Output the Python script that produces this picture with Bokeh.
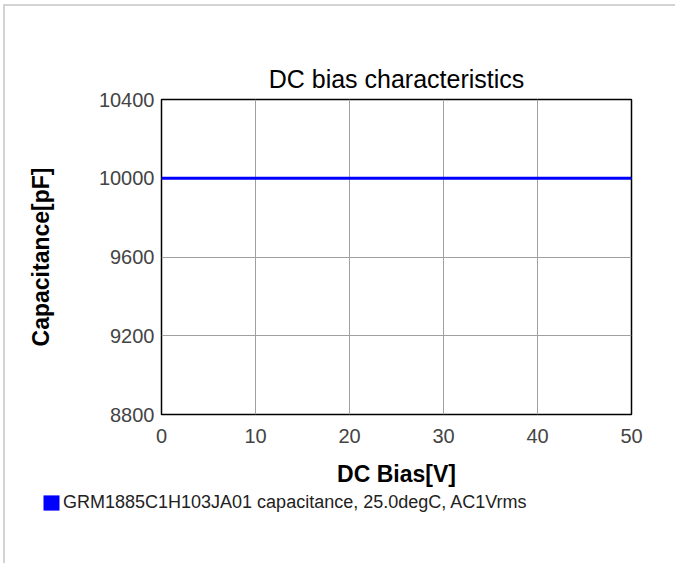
from bokeh.plotting import figure
from bokeh.models import Range1d, FixedTicker, Legend, LegendItem
from bokeh.embed import file_html
from bokeh.resources import INLINE

dc_bias = [0, 5, 10, 15, 20, 25, 30, 35, 40, 45, 50]
capacitance = [10000, 10000, 10000, 10000, 10000, 10000, 10000, 10000, 10000, 10000, 10000]
x_ticks = [0, 10, 20, 30, 40, 50]
y_ticks = [8800, 9200, 9600, 10000, 10400]
series_label = "GRM1885C1H103JA01 capacitance, 25.0degC, AC1Vrms"

FONT = "Liberation Sans"

p = figure(width=670, height=484, output_backend="svg", toolbar_location=None,
           x_range=Range1d(0, 50), y_range=Range1d(8800, 10400),
           min_border_left=156, min_border_right=44, min_border_top=93, min_border_bottom=76,
           title="DC bias characteristics")
p.frame_width = 470
p.frame_height = 315
p.styles = {"margin-left": "3px", "margin-top": "4px",
            "border-top": "2px solid #d4d4d4", "border-left": "2px solid #d4d4d4"}

p.title.text_font = FONT
p.title.text_font_size = "25px"
p.title.text_font_style = "normal"
p.title.text_color = "#000000"
p.title.align = "center"
p.title.standoff = 13

p.outline_line_color = "#000000"
p.outline_line_width = 1.5

for ax in (p.xaxis[0], p.yaxis[0]):
    ax.axis_line_color = None
    ax.major_tick_line_color = None
    ax.minor_tick_line_color = None
    ax.major_label_text_font = FONT
    ax.major_label_text_font_size = "20px"
    ax.major_label_text_color = "#444444"
    ax.axis_label_text_font = FONT
    ax.axis_label_text_font_size = "23px"
    ax.axis_label_text_font_style = "bold"
    ax.axis_label_text_color = "#000000"

p.xaxis.ticker = FixedTicker(ticks=x_ticks)
p.yaxis.ticker = FixedTicker(ticks=y_ticks)
p.xaxis.axis_label = "DC Bias[V]"
p.yaxis.axis_label = "Capacitance[pF]"
p.xaxis.major_label_standoff = 8
p.yaxis.major_label_standoff = 1
p.xaxis.axis_label_standoff = 15
p.yaxis.axis_label_standoff = 42

p.xgrid.grid_line_color = "#a0a0a0"
p.ygrid.grid_line_color = "#a0a0a0"
p.xgrid.grid_line_width = 1
p.ygrid.grid_line_width = 1

line = p.line(dc_bias, capacitance, line_color="#0000ff", line_width=3)

# Legend row below the chart (separate root, so its frame is not aligned with the chart's)
p2 = figure(width=670, height=73, output_backend="svg", toolbar_location=None,
            x_range=Range1d(0, 50), y_range=Range1d(0, 1),
            x_axis_location=None, y_axis_location=None,
            min_border_left=0, min_border_right=0, min_border_top=0, min_border_bottom=0)
p2.styles = {"margin-left": "3px", "border-left": "2px solid #d4d4d4"}
p2.outline_line_color = None
p2.xgrid.visible = False
p2.ygrid.visible = False
marker = p2.rect(dc_bias, capacitance, width=0, height=0, fill_color="#0000ff", line_color=None)

legend = Legend(items=[LegendItem(label=series_label, renderers=[marker])],
                location=(36, 50), padding=0, margin=0, spacing=0,
                glyph_width=20, glyph_height=19, label_standoff=2,
                label_text_font=FONT, label_text_font_size="18px", label_text_color="#222222",
                border_line_color=None, background_fill_alpha=0)
p2.add_layout(legend, "center")

open("out.html", "w").write(file_html([p, p2], INLINE))
